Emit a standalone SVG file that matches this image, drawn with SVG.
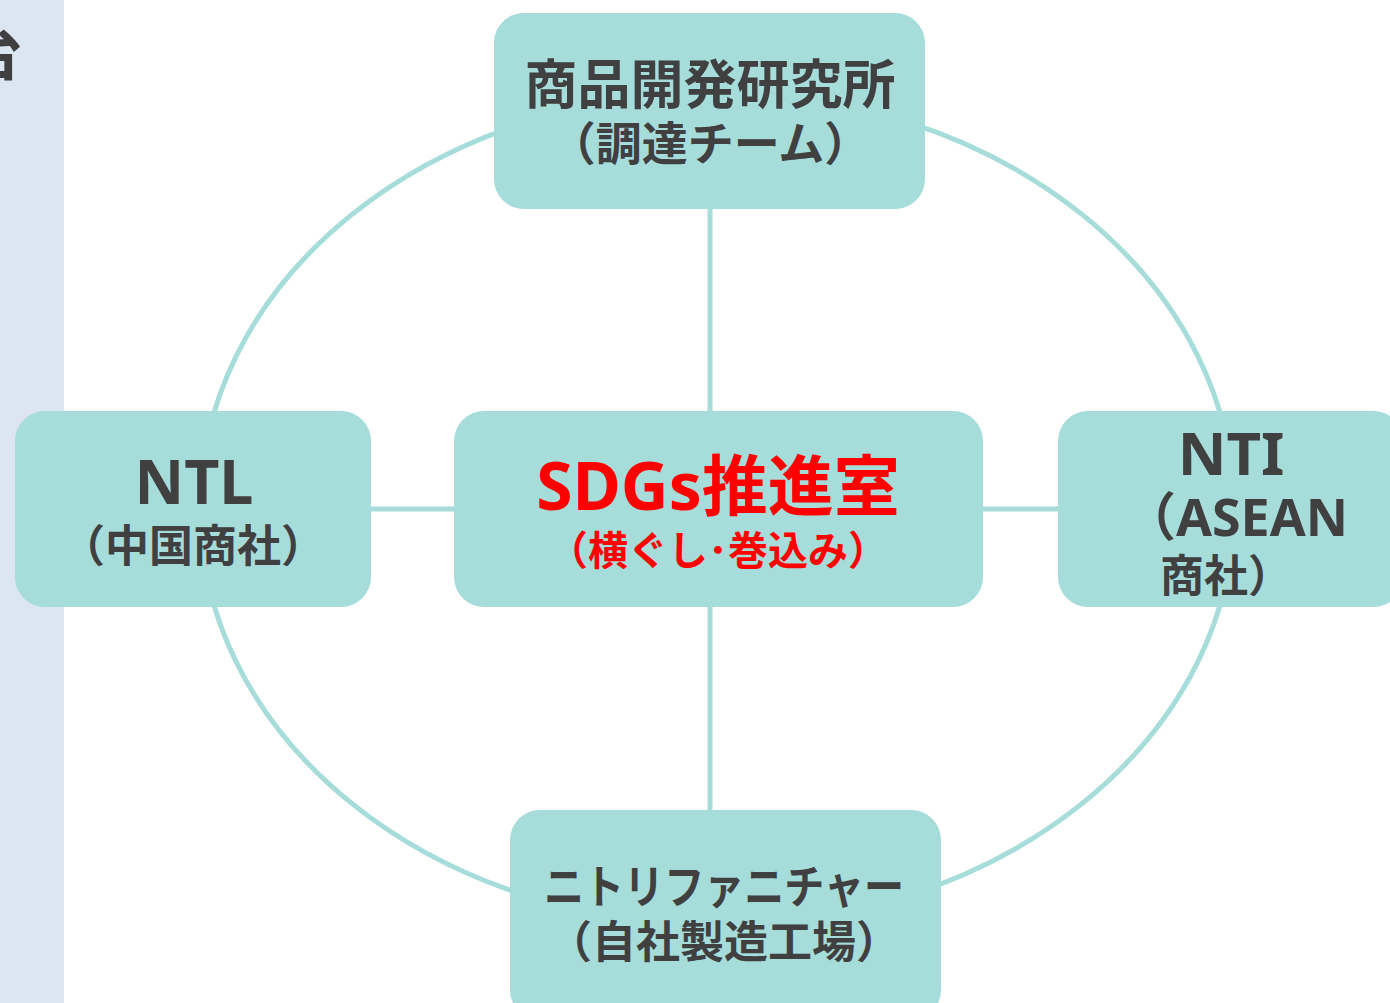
<svg xmlns="http://www.w3.org/2000/svg" width="1390" height="1003" viewBox="0 0 1390 1003">
<style>
.node{fill:#A6DCDA}
.conn{stroke:#A6DCDA;stroke-width:5;fill:none}
.t{font-family:"Noto Sans","Noto Sans CJK JP",sans-serif;font-weight:bold;fill:#404040;text-anchor:middle}
.r{fill:#FF0000}
</style>
<rect x="0" y="0" width="64" height="1003" fill="#DCE6F2"/>
<text class="t" x="-38" y="75" font-size="60" style="text-anchor:start">台</text>
<g id="connectors">
<ellipse class="conn" cx="717" cy="509" rx="517" ry="416"/>
<line class="conn" x1="710" y1="205" x2="710" y2="415"/>
<line class="conn" x1="710" y1="603" x2="710" y2="814"/>
<line class="conn" x1="367" y1="509" x2="458" y2="509"/>
<line class="conn" x1="979" y1="509" x2="1062" y2="509"/>
</g>
<g id="node-top">
<rect class="node" x="494" y="13" width="431" height="196" rx="30"/>
<text class="t" x="710" y="104" font-size="53">商品開発研究所</text>
<text class="t" x="710" y="160" font-size="46">（調達チーム）</text>
</g>
<g id="node-center">
<rect class="node" x="454" y="411" width="529" height="196" rx="30"/>
<text class="t r" x="718" y="510" font-size="66">SDGs推進室</text>
<text class="t r" x="718" y="565" font-size="40">（横ぐし･巻込み）</text>
</g>
<g id="node-left">
<rect class="node" x="15" y="411" width="356" height="196" rx="30"/>
<text class="t" x="194" y="504" font-size="61">NTL</text>
<text class="t" x="193" y="562" font-size="44">（中国商社）</text>
</g>
<g id="node-right">
<rect class="node" x="1058" y="411" width="345" height="196" rx="30"/>
<text class="t" x="1231" y="475" font-size="60">NTI</text>
<text class="t" x="1236" y="536" font-size="52">（ASEAN</text>
<text class="t" x="1226" y="592" font-size="44">商社）</text>
</g>
<g id="node-bottom">
<rect class="node" x="510" y="810" width="431" height="210" rx="30"/>
<text class="t" x="724" y="903" font-size="46" textLength="360" lengthAdjust="spacingAndGlyphs">ニトリファニチャー</text>
<text class="t" x="724" y="958" font-size="44">（自社製造工場）</text>
</g>
</svg>
